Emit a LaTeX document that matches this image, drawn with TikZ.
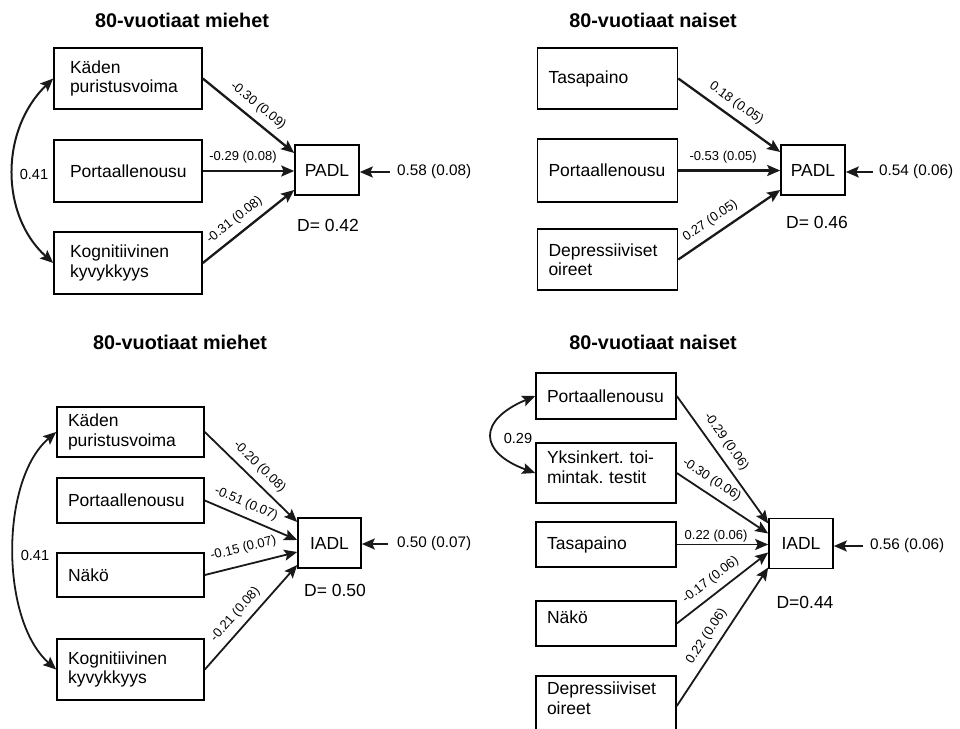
\documentclass[tikz,border=0pt]{standalone}
\usepackage{fontspec}
\setmainfont{Liberation Sans}
\usepackage{tikz}
\usetikzlibrary{arrows.meta}
\hyphenpenalty=10000
\frenchspacing
\tikzset{>={Stealth[length=13pt,width=11pt,inset=2.5pt]},
 var/.style={draw, line width=1.6pt, align=left, inner xsep=11pt,
  text width=118pt, minimum height=#1, font=\fontsize{17.5}{19.5}\selectfont},
 dep/.style={draw, line width=1.6pt, minimum width=64pt,
  minimum height=50pt, inner sep=0pt, font=\fontsize{17.5}{19.5}\selectfont},
 heading/.style={font=\fontsize{19.8}{22}\selectfont\bfseries},
 coef/.style={font=\fontsize{13}{15}\selectfont, inner sep=1.5pt, sloped, above=#1},
 coef/.default=5pt,
 err/.style={font=\fontsize{15.3}{17}\selectfont, anchor=west, inner sep=0pt},
 dval/.style={font=\fontsize{17.5}{19}\selectfont},
 cov/.style={font=\fontsize{14.6}{16}\selectfont, inner sep=0pt},
 effect/.style={draw=black!90, line width=#1, ->},
 effect/.default=2.3pt,
 }

\begin{document}
\begin{tikzpicture}[x=1pt, y=-1pt]
        \useasboundingbox (0,0) rectangle (960,728);
        \foreach \x/\y/\t [count=\i] in {182/20/miehet, 653/20/naiset, 180/342/miehet, 653/342/naiset} {
            \node[heading] (h\i) at (\x, \y) {80-vuotiaat \t};
        }
        \node[var=61pt, inner xsep=16pt, text width=116pt] (kaeden1) at (128,78.5) {Käden\\puristusvoima};
        \node[var=62pt, inner xsep=16pt, text width=116pt] (porta1) at (128,171) {Portaallenousu};
        \node[var=62pt, inner xsep=16pt, text width=116pt] (kogn1) at (128,263) {Kognitiivinen\\kyvykkyys};
        \node[dep] (padl1) at (327,170) {PADL};
        \node[dval] (d1) at (328,225) {D= 0.42};
        \node[err] (e1) at (397,172) {0.58 (0.08)};
        \node[cov] (r1) at (34,174) {0.41};
        \draw[effect] (kaeden1.east) -- ([yshift=17pt]padl1.west) node[coef, pos=.51] {-0.30 (0.09)};
        \draw[effect] (porta1.east) -- (porta1.east -| padl1.west) node[coef, pos=.44] {-0.29 (0.08)};
        \draw[effect] (kogn1.east) -- ([yshift=-20pt]padl1.west) node[coef, pos=.44] {-0.31 (0.08)};
        \draw[effect] ([xshift=-7pt]e1.west) -- (e1.west -| padl1.east);
        \draw[effect=2pt, <->] (kaeden1.west) .. controls (0,130) and (0,215) .. (kogn1.west);

        \node[var=61pt] (tasa2) at (607.5,78.5) {Tasapaino};
        \node[var=63pt] (porta2) at (607.5,170.5) {Portaallenousu};
        \node[var=61pt] (depr2) at (607.5,259.5) {Depressiiviset\\oireet};
        \node[dep] (padl2) at (813,170) {PADL};
        \node[dval] (d2) at (817,222) {D= 0.46};
        \node[err] (e2) at (879,172) {0.54 (0.06)};
        \draw[effect] (tasa2.east) -- ([yshift=18pt]padl2.west) node[coef, pos=.49] {0.18 (0.05)};
        \draw[effect] (porta2.east) -- (porta2.east -| padl2.west) node[coef, pos=.44] {-0.53 (0.05)};
        \draw[effect] (depr2.east) -- ([yshift=-20pt]padl2.west) node[coef, pos=.39] {0.27 (0.05)};
        \draw[effect] ([xshift=-6pt]e2.west) -- (e2.west -| padl2.east);

        \node[var=50pt, text width=125pt] (kaeden3) at (130.5,432) {Käden\\puristusvoima};
        \node[var=45pt, text width=125pt] (porta3) at (130.5,500.5) {Portaallenousu};
        \node[var=44pt, text width=125pt] (naeko3) at (130.5,575) {Näkö};
        \node[var=61pt, text width=125pt] (kogn3) at (130.5,669.5) {Kognitiivinen\\kyvykkyys};
        \node[dep, minimum width=63pt] (iadl3) at (329.5,543) {IADL};
        \node[dval] (d3) at (335,590) {D= 0.50};
        \node[err] (e3) at (397,544) {0.50 (0.07)};
        \node[cov] (r3) at (35,555) {0.41};
        \draw[effect=1.8pt] (kaeden3.east) -- ([yshift=21pt]iadl3.west) node[coef, pos=.49] {-0.20 (0.08)};
        \draw[effect=1.8pt] (porta3.east) -- ([yshift=3pt]iadl3.west) node[coef, pos=.39] {-0.51 (0.07)};
        \draw[effect=1.8pt] (naeko3.east) -- ([yshift=-9pt]iadl3.west) node[coef=8pt, pos=.46] {-0.15 (0.07)};
        \draw[effect=1.8pt] (kogn3.east) -- ([yshift=-22pt]iadl3.west) node[coef, pos=.44] {-0.21 (0.08)};
        \draw[effect=2pt] ([xshift=-9pt]e3.west) -- (e3.west -| iadl3.east);
        \draw[effect=1.8pt, <->] (kaeden3.west) .. controls (0,480) and (0,620) .. (kogn3.west);

        \node[var=46pt] (porta4) at (606,396) {Portaallenousu};
        \node[var=60pt, text depth=31.5pt] (yks4) at (606,473) {Yksinkert. toi-\\mintak. testit};
        \node[var=45pt] (tasa4) at (606,544.5) {Tasapaino};
        \node[var=45pt, text depth=13pt] (naeko4) at (606,623.5) {Näkö};
        \node[var=60pt, text depth=35.5pt] (depr4) at (606,706) {Depressiiviset\\oireet};
        \node[dep] (iadl4) at (801,543.5) {IADL};
        \node[dval] (d4) at (805,602) {D=0.44};
        \node[err] (e4) at (870,546) {0.56 (0.06)};
        \node[cov] (r4) at (518,438) {0.29};
        \draw[effect=1.8pt] (porta4.east) -- ([yshift=20pt]iadl4.west) node[coef, pos=.42] {-0.29 (0.06)};
        \draw[effect=1.8pt] (yks4.east) -- ([yshift=10pt]iadl4.west) node[coef, pos=.30] {-0.30 (0.06)};
        \draw[effect=1.8pt] (tasa4.east) -- (tasa4.east -| iadl4.west) node[coef=0pt, pos=.43] {0.22 (0.06)};
        \draw[effect=1.8pt] (naeko4.east) -- ([yshift=-9pt]iadl4.west) node[coef, pos=.46] {-0.17 (0.06)};
        \draw[effect=1.8pt] (depr4.east) -- ([yshift=-24pt]iadl4.west) node[coef, pos=.45] {0.22 (0.06)};
        \draw[effect=2pt] ([xshift=-7pt]e4.west) -- (e4.west -| iadl4.east);
        \draw[effect=1.8pt, <->] (porta4.west) .. controls (478,420) and (478,452) .. (yks4.west);
\end{tikzpicture}
\end{document}
